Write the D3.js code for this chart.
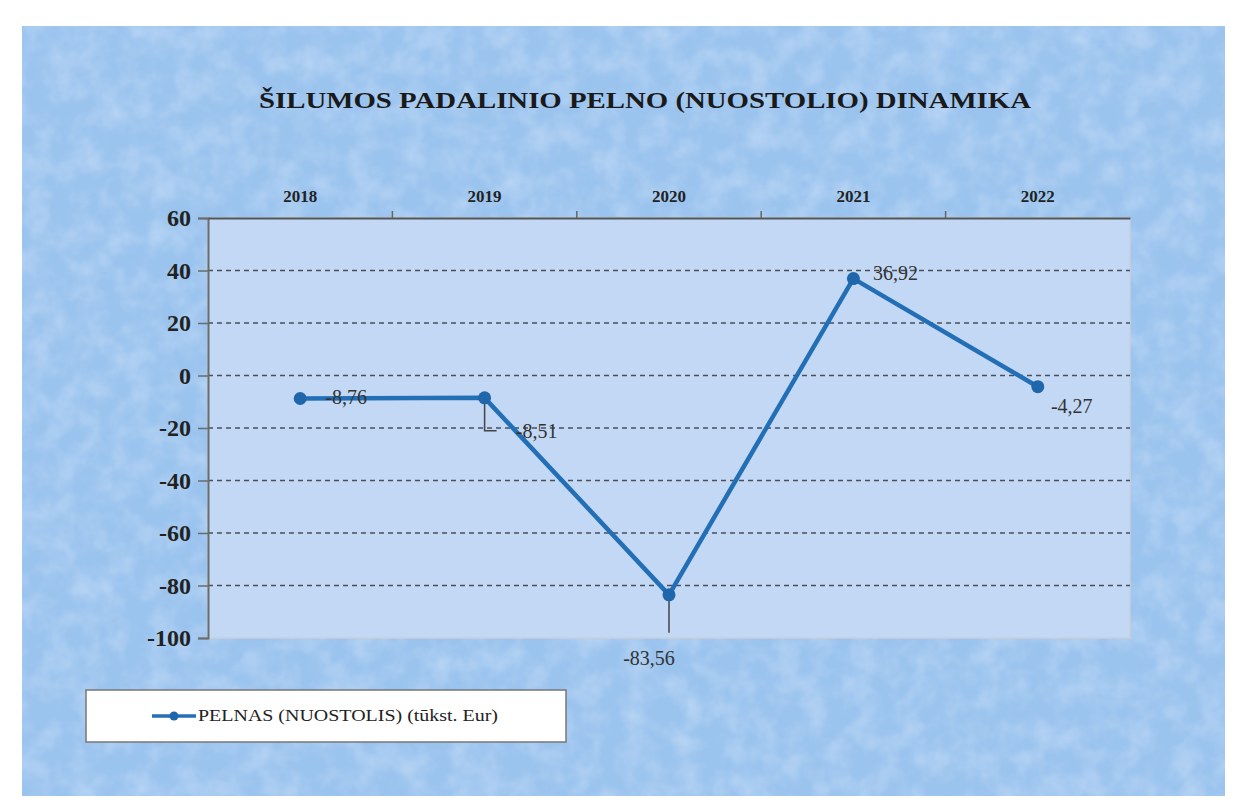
<!DOCTYPE html>
<html>
<head>
<meta charset="utf-8">
<script src="https://cdn.jsdelivr.net/npm/d3@7"></script>
<style>
html,body{margin:0;padding:0;background:#fff;}
svg{display:block;}
svg text{font-family:'Liberation Serif','Times New Roman',Tinos,'DejaVu Serif',serif;}
</style>
</head>
<body>
<svg id="c" width="1233" height="804"></svg>
<script>
const title = "ŠILUMOS PADALINIO PELNO (NUOSTOLIO) DINAMIKA";
const categories = ["2018", "2019", "2020", "2021", "2022"];
const values = [-8.76, -8.51, -83.56, 36.92, -4.27];
const yTicks = [60, 40, 20, 0, -20, -40, -60, -80, -100];
const seriesName = "PELNAS (NUOSTOLIS) (tūkst. Eur)";
// label placement (dx, dy) relative to point
const labelOffsets = [[46, 1], [52, 36], [-20, 66], [42, -3], [34, 22]];

const SERIF = "'Liberation Serif', 'Times New Roman', Tinos, 'DejaVu Serif', serif";
const svg = d3.select("#c");
const defs = svg.append("defs");
const f = defs.append("filter").attr("id","tex").attr("x",0).attr("y",0).attr("width","100%").attr("height","100%");
f.append("feTurbulence").attr("type","fractalNoise").attr("baseFrequency","0.04").attr("numOctaves",3).attr("seed",7).attr("result","n");
f.append("feColorMatrix").attr("in","n").attr("type","matrix")
 .attr("values","0 0 0 0 0.85  0 0 0 0 0.9  0 0 0 0 1  0 0 0 1.3 -0.45").attr("result","c");
f.append("feComposite").attr("in","c").attr("in2","SourceGraphic").attr("operator","in");

// card background
svg.append("rect").attr("x",22).attr("y",26).attr("width",1203).attr("height",770).attr("fill","#9ac3ee");
svg.append("rect").attr("x",22).attr("y",26).attr("width",1203).attr("height",770).attr("fill","#fff").attr("filter","url(#tex)").attr("opacity",0.45);

const m = {left:208, right:1130, top:218, bottom:638};
const x = d3.scaleBand().domain(categories).range([m.left, m.right]);
const y = d3.scaleLinear().domain([-100, 60]).range([m.bottom, m.top]);

// plot area
svg.append("rect").attr("x",m.left).attr("y",m.top).attr("width",m.right-m.left).attr("height",m.bottom-m.top)
  .attr("fill","#c3d8f5").attr("stroke","#c9cfd8").attr("stroke-width",1.5);

// gridlines
svg.append("g").selectAll("line").data(yTicks.filter(t => t !== 60 && t !== -100)).join("line")
  .attr("x1",m.left).attr("x2",m.right).attr("y1",d=>y(d)).attr("y2",d=>y(d))
  .attr("stroke","#4a4f58").attr("stroke-width",1.3).attr("stroke-dasharray","5,4");

// y axis
const ya = svg.append("g").attr("transform",`translate(${m.left},0)`)
  .call(d3.axisLeft(y).tickValues(yTicks).tickSize(10).tickFormat(d => String(d)))
  .attr("font-family",SERIF);
ya.select(".domain").attr("stroke","#6b6b6b").attr("stroke-width",2);
ya.selectAll(".tick line").attr("stroke","#6b6b6b").attr("stroke-width",1.5);
ya.selectAll(".tick text").style("font-family",SERIF).style("font-size","24px").attr("fill","#222")
  .attr("font-weight","bold").attr("x",-17);

// top category axis
const xa = svg.append("g").attr("transform",`translate(0,${m.top})`)
  .call(d3.axisTop(x).tickSize(0).tickPadding(16)).attr("font-family",SERIF);
xa.select(".domain").attr("stroke","#555").attr("stroke-width",2.2);
xa.selectAll(".tick text").style("font-family",SERIF).style("font-size","17px").attr("font-weight","bold").attr("fill","#222");
svg.append("g").selectAll("line").data(categories.slice(1)).join("line")
  .attr("x1",d=>x(d)).attr("x2",d=>x(d)).attr("y1",m.top-7).attr("y2",m.top)
  .attr("stroke","#666").attr("stroke-width",1.5);

// leader lines
const px = i => x(categories[i]) + x.bandwidth()/2;
const py = i => y(values[i]);
svg.append("path").attr("d",`M${px(1)},${py(1)}V${py(1)+33}H${px(1)+12}`)
  .attr("fill","none").attr("stroke","#444").attr("stroke-width",1.5);
svg.append("line").attr("x1",px(2)).attr("x2",px(2)).attr("y1",py(2)).attr("y2",py(2)+38)
  .attr("stroke","#444").attr("stroke-width",1.5);

// line
const line = d3.line().x((d,i)=>px(i)).y(d=>y(d));
svg.append("path").datum(values).attr("d",line).attr("fill","none")
  .attr("stroke","#226fb6").attr("stroke-width",4.5).attr("stroke-linejoin","round");
svg.append("g").selectAll("circle").data(values).join("circle")
  .attr("cx",(d,i)=>px(i)).attr("cy",d=>y(d)).attr("r",6.5).attr("fill","#1f66ab");

// labels
const fmt = v => d3.format(".2f")(v).replace("−","-").replace(".", ",");
svg.append("g").selectAll("text").data(values).join("text")
  .attr("x",(d,i)=>px(i)+labelOffsets[i][0]).attr("y",(d,i)=>py(i)+labelOffsets[i][1])
  .attr("text-anchor","middle").attr("dominant-baseline","middle")
  .style("font-family",SERIF).style("font-size","20px").attr("fill","#333").text(d=>fmt(d));

// title
svg.append("text").attr("x",645).attr("y",108).attr("text-anchor","middle")
  .style("font-family",SERIF).style("font-size","23px").attr("font-weight","bold").attr("fill","#1a1a1a")
  .attr("textLength",772).attr("lengthAdjust","spacingAndGlyphs").text(title);

// legend
const lg = svg.append("g");
lg.append("rect").attr("x",86).attr("y",690).attr("width",480).attr("height",52)
  .attr("fill","#fff").attr("stroke","#777").attr("stroke-width",1.5);
lg.append("line").attr("x1",152).attr("x2",196).attr("y1",716).attr("y2",716).attr("stroke","#226fb6").attr("stroke-width",3.5);
lg.append("circle").attr("cx",174).attr("cy",716).attr("r",4.5).attr("fill","#1f66ab");
lg.append("text").attr("x",198).attr("y",717).attr("dominant-baseline","middle")
  .style("font-family",SERIF).style("font-size","17px").attr("fill","#222")
  .attr("textLength",300).attr("lengthAdjust","spacingAndGlyphs").text(seriesName);
</script>
</body>
</html>
